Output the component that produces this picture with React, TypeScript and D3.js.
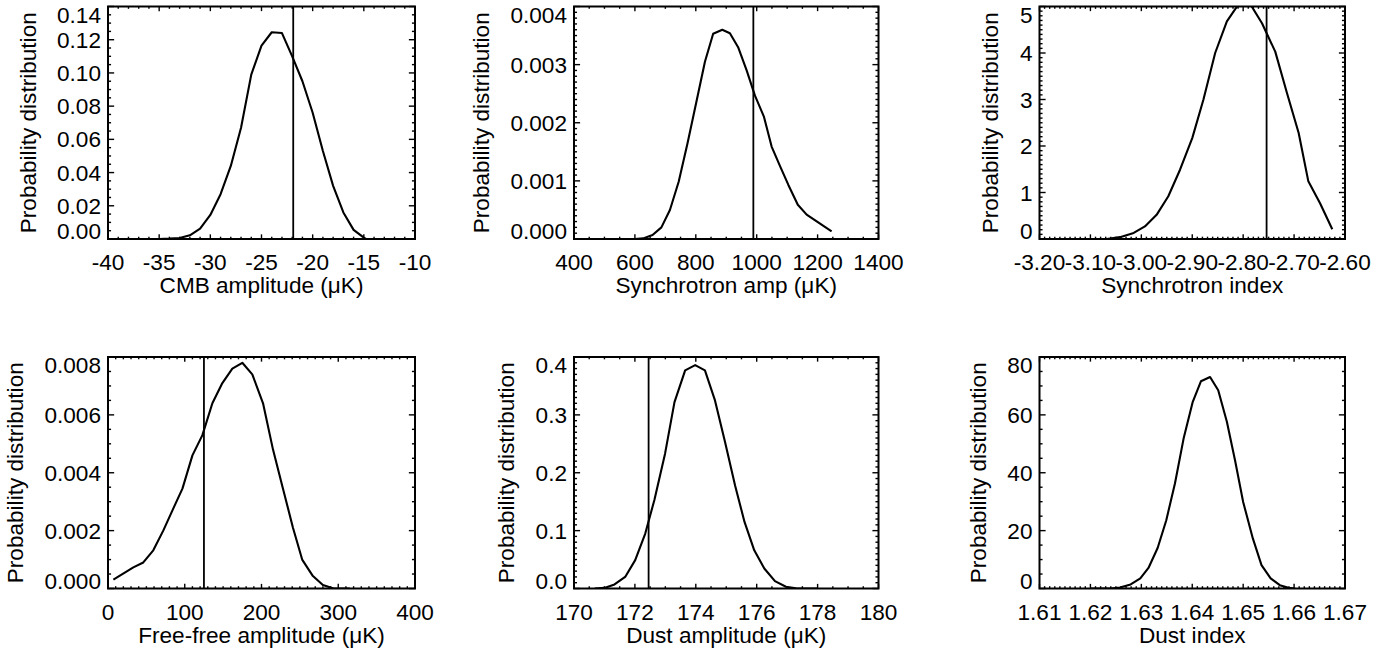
import React from "react";
import * as d3 from "d3";

// ---------------- DATA ----------------
const cmbX = [-35, -34, -33, -32, -31, -30, -29, -28, -27, -26, -25, -24, -23, -22, -21, -20, -19, -18, -17, -16, -15, -14.8];
const cmbY = [0, 0.0002, 0.0006, 0.0022, 0.0062, 0.0145, 0.027, 0.044, 0.067, 0.099, 0.1165, 0.1245, 0.124, 0.11, 0.095, 0.076, 0.053, 0.032, 0.016, 0.0055, 0.0008, 0];
const cmbMarker = -21.9;

const syncAmpX = [600, 627, 658, 687, 715, 744, 773, 802, 830, 857, 887, 912, 939, 967, 994, 1024, 1049, 1077, 1104, 1135, 1164, 1246];
const syncAmpY = [0, 0.00001, 0.00007, 0.0002, 0.0005, 0.00099, 0.00165, 0.00236, 0.00305, 0.00353, 0.0036, 0.00354, 0.0033, 0.0029, 0.00247, 0.0021, 0.00159, 0.00125, 0.00093, 0.00059, 0.00042, 0.00013];
const syncAmpMarker = 989;

const syncIdxX = [-3.095, -3.068, -3.042, -3.015, -2.993, -2.97, -2.947, -2.924, -2.9, -2.878, -2.855, -2.832, -2.809, -2.786, -2.763, -2.737, -2.714, -2.691, -2.672, -2.649, -2.625];
const syncIdxY = [0, 0, 0.04, 0.13, 0.27, 0.52, 0.92, 1.49, 2.17, 3.0, 4.0, 4.68, 5.05, 5.05, 4.64, 4.03, 3.14, 2.28, 1.24, 0.77, 0.21];
const syncIdxMarker = -2.754;

const ffX = [7, 33, 46, 59, 72, 85, 97, 110, 123, 136, 149, 162, 175, 188, 202, 215, 228, 241, 253, 267, 280, 294, 315];
const ffY = [0.00031, 0.00073, 0.0009, 0.00132, 0.002, 0.00276, 0.00345, 0.0046, 0.0053, 0.0064, 0.0071, 0.0076, 0.0078, 0.0074, 0.0064, 0.0048, 0.00345, 0.0021, 0.001, 0.00043, 0.00012, 0, 0];
const ffMarker = 125;

const dustAmpX = [170.68, 171.0, 171.33, 171.68, 172.01, 172.34, 172.64, 172.99, 173.3, 173.65, 173.98, 174.3, 174.63, 174.96, 175.29, 175.6, 175.92, 176.25, 176.6, 176.96, 177.29, 177.62, 178.0];
const dustAmpY = [0, 0.001, 0.007, 0.02, 0.049, 0.095, 0.153, 0.233, 0.322, 0.377, 0.386, 0.377, 0.325, 0.253, 0.178, 0.115, 0.066, 0.0345, 0.0127, 0.003, 0.0005, 0, 0];
const dustAmpMarker = 172.45;

const dustIdxX = [1.62, 1.6239, 1.6258, 1.6279, 1.6298, 1.6314, 1.6332, 1.6349, 1.6366, 1.6383, 1.6401, 1.6417, 1.6435, 1.6451, 1.6468, 1.6484, 1.65, 1.6519, 1.6536, 1.6554, 1.6572, 1.6589, 1.6602];
const dustIdxY = [0, 0, 0.35, 1.4, 3.5, 7.1, 14, 23.6, 36.3, 51.8, 64.5, 71.6, 73.1, 68.5, 57.6, 44.3, 29.9, 17.3, 8.1, 3.5, 1.15, 0.23, 0];

const xTitles = [
  "CMB amplitude (\u03bcK)",
  "Synchrotron amp (\u03bcK)",
  "Synchrotron index",
  "Free-free amplitude (\u03bcK)",
  "Dust amplitude (\u03bcK)",
  "Dust index",
];
const yTitle = "Probability distribution";

// ---------------- STYLE ----------------
const FONT = "'Liberation Sans', Arial, Helvetica, sans-serif";
const FS = 22.6;
const DIGIT_H = FS * 0.716;

let ctx: CanvasRenderingContext2D | null = null;
function textWidth(s: string) {
  if (!ctx) ctx = document.createElement("canvas").getContext("2d");
  if (!ctx) return s.length * FS * 0.55;
  ctx.font = `${FS}px ${FONT}`;
  return ctx.measureText(s).width;
}

type PanelProps = {
  id: string;
  box: [number, number, number, number]; // x0, x1, y0, y1
  xDomain: [number, number];
  xStep: number;
  xMinor: number;
  xDec: number;
  yDomain: [number, number];
  yStep: number;
  yMinor: number;
  yDec: number;
  xs: number[];
  ys: number[];
  marker?: number;
  xTitle: string;
};

function ticks(min: number, max: number, step: number, minor: number) {
  const n = Math.round((max - min) / step);
  const major = d3.range(0, n + 1).map((i) => min + i * step);
  const minors = d3
    .range(0, n * minor + 1)
    .filter((i) => i % minor !== 0)
    .map((i) => min + (i * step) / minor);
  return { major, minors };
}

function Panel(p: PanelProps) {
  const [x0, x1, y0, y1] = p.box;
  const xs = d3.scaleLinear().domain(p.xDomain).range([x0, x1]);
  const ys = d3.scaleLinear().domain(p.yDomain).range([y1, y0]);
  const xt = ticks(p.xDomain[0], p.xDomain[1], p.xStep, p.xMinor);
  const yt = ticks(p.yDomain[0], p.yDomain[1], p.yStep, p.yMinor);
  const xMajLen = 0.02 * (y1 - y0);
  const yMajLen = 0.02 * (x1 - x0);
  const line = d3
    .line<number>()
    .x((_, i) => xs(p.xs[i]))
    .y((d) => ys(d));
  const yLabels = yt.major.map((v) => v.toFixed(p.yDec));
  const maxW = d3.max(yLabels, (s) => textWidth(s)) || 0;
  const labelRight = x0 - 7;
  const titleX = labelRight - maxW - 21.5;
  const cy = (y0 + y1) / 2;
  return (
    <g>
      <defs>
        <clipPath id={`clip-${p.id}`}>
          <rect x={x0} y={y0} width={x1 - x0} height={y1 - y0} />
        </clipPath>
      </defs>
      <path
        d={line(p.ys) || ""}
        fill="none"
        stroke="#000"
        strokeWidth={2.1}
        strokeLinejoin="round"
        clipPath={`url(#clip-${p.id})`}
      />
      {p.marker !== undefined && (
        <line x1={xs(p.marker)} x2={xs(p.marker)} y1={y0} y2={y1} stroke="#000" strokeWidth={1.8} />
      )}
      {/* ticks */}
      <g stroke="#000" strokeWidth={1.4}>
        {xt.major.map((v, i) => (
          <g key={`xm${i}`}>
            <line x1={xs(v)} x2={xs(v)} y1={y1} y2={y1 - xMajLen} />
            <line x1={xs(v)} x2={xs(v)} y1={y0} y2={y0 + xMajLen} />
          </g>
        ))}
        {xt.minors.map((v, i) => (
          <g key={`xn${i}`}>
            <line x1={xs(v)} x2={xs(v)} y1={y1} y2={y1 - xMajLen / 2} />
            <line x1={xs(v)} x2={xs(v)} y1={y0} y2={y0 + xMajLen / 2} />
          </g>
        ))}
        {yt.major.map((v, i) => (
          <g key={`ym${i}`}>
            <line x1={x0} x2={x0 + yMajLen} y1={ys(v)} y2={ys(v)} />
            <line x1={x1} x2={x1 - yMajLen} y1={ys(v)} y2={ys(v)} />
          </g>
        ))}
        {yt.minors.map((v, i) => (
          <g key={`yn${i}`}>
            <line x1={x0} x2={x0 + yMajLen / 2} y1={ys(v)} y2={ys(v)} />
            <line x1={x1} x2={x1 - yMajLen / 2} y1={ys(v)} y2={ys(v)} />
          </g>
        ))}
      </g>
      <rect x={x0} y={y0} width={x1 - x0} height={y1 - y0} fill="none" stroke="#000" strokeWidth={2} />
      {/* labels */}
      <g fontFamily={FONT} fontSize={FS} fill="#000">
        {xt.major.map((v, i) => (
          <text key={`xl${i}`} x={xs(v)} y={y1 + 31} textAnchor="middle">
            {v.toFixed(p.xDec)}
          </text>
        ))}
        {yt.major.map((v, i) => {
          const c = Math.min(Math.max(ys(v), y0 + DIGIT_H / 2), y1 - DIGIT_H / 2);
          return (
            <text key={`yl${i}`} x={labelRight} y={c + DIGIT_H / 2} textAnchor="end">
              {yLabels[i]}
            </text>
          );
        })}
        <text x={(x0 + x1) / 2} y={y1 + 54} textAnchor="middle">
          {p.xTitle}
        </text>
        <text x={titleX} y={cy} textAnchor="middle" transform={`rotate(-90, ${titleX}, ${cy})`}>
          {yTitle}
        </text>
      </g>
    </g>
  );
}

export default function App() {
  const top: [number, number] = [6.5, 239];
  const bot: [number, number] = [357, 588.5];
  const c1: [number, number] = [108, 415];
  const c2: [number, number] = [574, 878.5];
  const c3: [number, number] = [1039.5, 1345];
  return (
    <div style={{ position: "absolute", left: 0, top: 0 }}>
      <svg width={1393} height={656} style={{ display: "block", background: "#fff" }}>
        <Panel
          id="p1"
          box={[c1[0], c1[1], top[0], top[1]]}
          xDomain={[-40, -10]}
          xStep={5}
          xMinor={5}
          xDec={0}
          yDomain={[0, 0.14]}
          yStep={0.02}
          yMinor={4}
          yDec={2}
          xs={cmbX}
          ys={cmbY}
          marker={cmbMarker}
          xTitle={xTitles[0]}
        />
        <Panel
          id="p2"
          box={[c2[0], c2[1], top[0], top[1]]}
          xDomain={[400, 1400]}
          xStep={200}
          xMinor={4}
          xDec={0}
          yDomain={[0, 0.004]}
          yStep={0.001}
          yMinor={10}
          yDec={3}
          xs={syncAmpX}
          ys={syncAmpY}
          marker={syncAmpMarker}
          xTitle={xTitles[1]}
        />
        <Panel
          id="p3"
          box={[c3[0], c3[1], top[0], top[1]]}
          xDomain={[-3.2, -2.6]}
          xStep={0.1}
          xMinor={10}
          xDec={2}
          yDomain={[0, 5]}
          yStep={1}
          yMinor={10}
          yDec={0}
          xs={syncIdxX}
          ys={syncIdxY}
          marker={syncIdxMarker}
          xTitle={xTitles[2]}
        />
        <Panel
          id="p4"
          box={[c1[0], c1[1], bot[0], bot[1]]}
          xDomain={[0, 400]}
          xStep={100}
          xMinor={10}
          xDec={0}
          yDomain={[0, 0.008]}
          yStep={0.002}
          yMinor={4}
          yDec={3}
          xs={ffX}
          ys={ffY}
          marker={ffMarker}
          xTitle={xTitles[3]}
        />
        <Panel
          id="p5"
          box={[c2[0], c2[1], bot[0], bot[1]]}
          xDomain={[170, 180]}
          xStep={2}
          xMinor={4}
          xDec={0}
          yDomain={[0, 0.4]}
          yStep={0.1}
          yMinor={10}
          yDec={1}
          xs={dustAmpX}
          ys={dustAmpY}
          marker={dustAmpMarker}
          xTitle={xTitles[4]}
        />
        <Panel
          id="p6"
          box={[c3[0], c3[1], bot[0], bot[1]]}
          xDomain={[1.61, 1.67]}
          xStep={0.01}
          xMinor={10}
          xDec={2}
          yDomain={[0, 80]}
          yStep={20}
          yMinor={4}
          yDec={0}
          xs={dustIdxX}
          ys={dustIdxY}
          xTitle={xTitles[5]}
        />
      </svg>
    </div>
  );
}
